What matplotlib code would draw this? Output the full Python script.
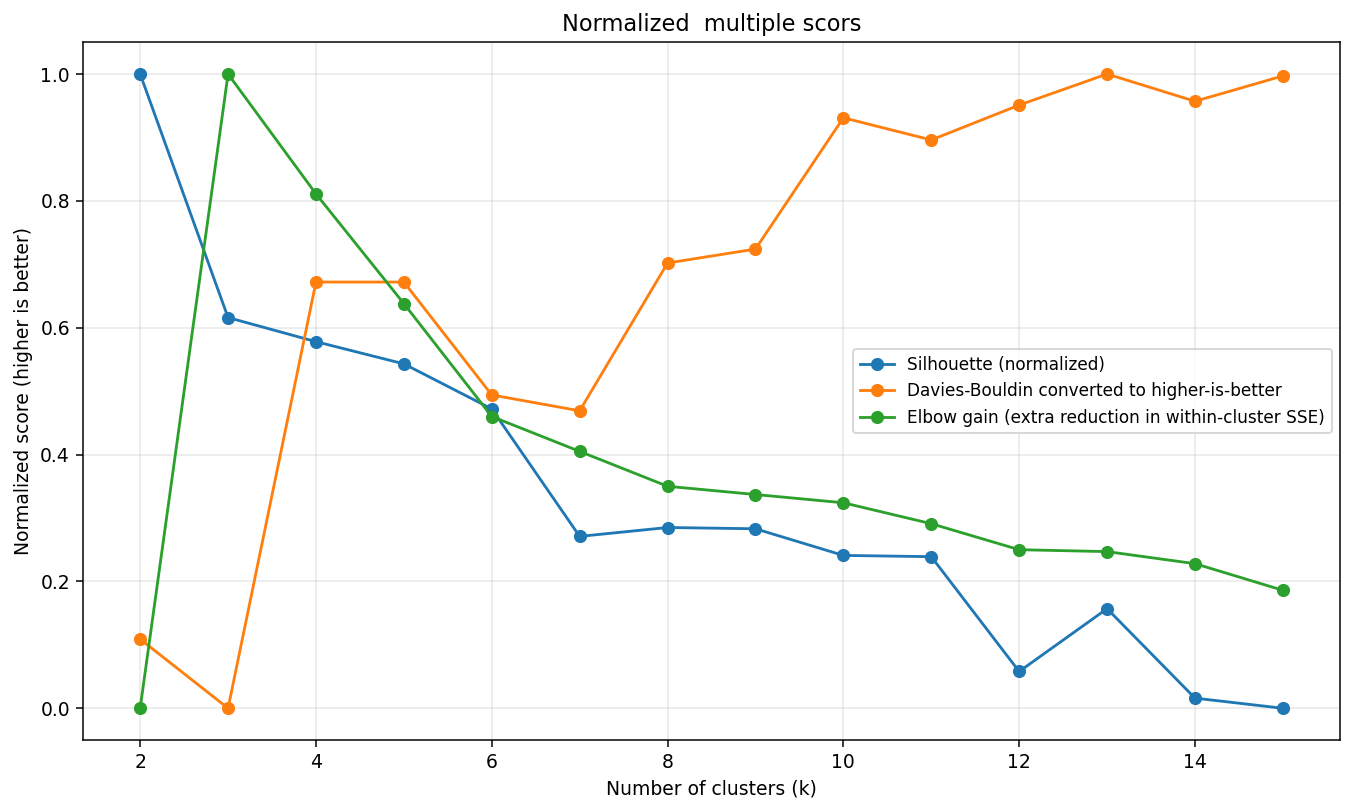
import matplotlib
matplotlib.use("Agg")
import matplotlib.pyplot as plt

k = list(range(2, 16))
silhouette = [1.0, 0.616, 0.578, 0.543, 0.472, 0.271, 0.285, 0.283, 0.241, 0.239, 0.058, 0.157, 0.016, 0.0]
davies = [0.109, 0.0, 0.672, 0.672, 0.494, 0.469, 0.702, 0.724, 0.931, 0.896, 0.951, 1.0, 0.957, 0.997]
elbow = [0.0, 1.0, 0.811, 0.638, 0.460, 0.405, 0.350, 0.337, 0.324, 0.291, 0.250, 0.247, 0.228, 0.186]

labels = ["Silhouette (normalized)",
          "Davies-Bouldin converted to higher-is-better",
          "Elbow gain (extra reduction in within-cluster SSE)"]

DPI = 135
fig, ax = plt.subplots(figsize=(1350 / DPI, 798 / DPI), dpi=DPI)
fig.subplots_adjust(left=0.0615, right=0.9926, top=0.947, bottom=0.0727)

ax.plot(k, silhouette, marker='o', label=labels[0])
ax.plot(k, davies, marker='o', label=labels[1])
ax.plot(k, elbow, marker='o', label=labels[2])

ax.set_title("Normalized  multiple scors")
ax.set_xlabel("Number of clusters (k)")
ax.set_ylabel("Normalized score (higher is better)")
ax.grid(True, alpha=0.3)
ax.legend(loc='center right', fontsize=9)

fig.savefig("out.png", dpi=DPI)
